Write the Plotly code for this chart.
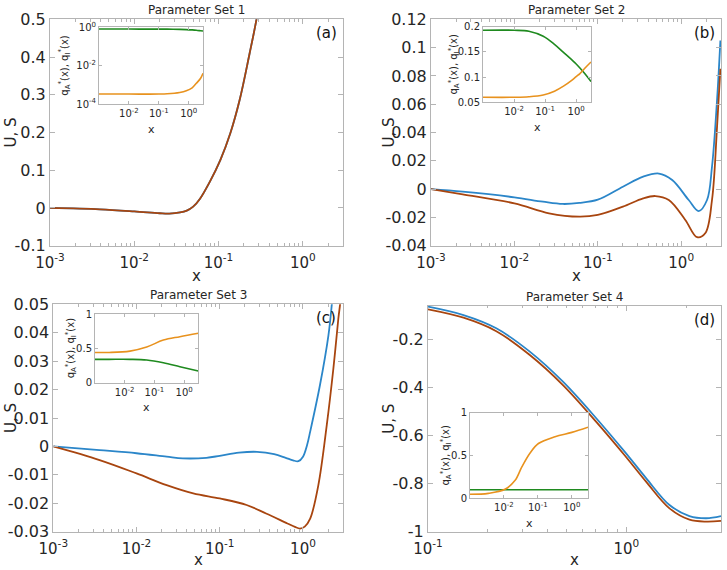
import numpy as np
import plotly.graph_objects as go

W, H = 727, 570

# ---------------- DATA ----------------
# Panel (a) - Parameter Set 1 (U and S coincide)
a_x = [0.001, 0.0039, 0.01, 0.02, 0.026, 0.035, 0.042, 0.05, 0.06, 0.079, 0.105, 0.138, 0.178, 0.234, 0.282, 0.316, 0.355]
a_U = [0.0, -0.0035, -0.009, -0.014, -0.015, -0.012, -0.007, 0.0035, 0.024, 0.070, 0.127, 0.198, 0.286, 0.41, 0.5, 0.57, 0.65]
a_S = [0.0, -0.0035, -0.009, -0.014, -0.015, -0.012, -0.007, 0.0035, 0.024, 0.070, 0.127, 0.198, 0.286, 0.41, 0.5, 0.57, 0.65]
a_in_x = [0.001, 0.01, 0.1, 0.19, 0.5, 0.83, 1.3, 1.8, 2.5, 3.0]
a_qA = [0.81, 0.81, 0.80, 0.80, 0.78, 0.76, 0.73, 0.70, 0.66, 0.64]
a_qI = [3.3e-4, 3.3e-4, 3.3e-4, 3.4e-4, 4.0e-4, 4.9e-4, 7.0e-4, 1.2e-3, 2.2e-3, 4.0e-3]

# Panel (b) - Parameter Set 2
b_xU = [0.001, 0.0024, 0.01, 0.022, 0.038, 0.06, 0.1, 0.2, 0.35, 0.54, 0.78, 1.23, 1.62, 2.04, 2.34, 2.69, 2.95]
b_U = [0.0, -0.0018, -0.0058, -0.0089, -0.0105, -0.0098, -0.0075, 0.0017, 0.0088, 0.011, 0.0064, -0.0077, -0.0155, -0.0077, 0.0158, 0.063, 0.105]
b_xS = [0.001, 0.0024, 0.01, 0.026, 0.06, 0.1, 0.2, 0.35, 0.49, 0.71, 1.12, 1.55, 1.95, 2.34, 2.69, 2.95]
b_S = [0.0, -0.0037, -0.0101, -0.0171, -0.0195, -0.0183, -0.0124, -0.0065, -0.0049, -0.0077, -0.0218, -0.034, -0.031, -0.0077, 0.044, 0.085]
b_in_x = [0.001, 0.01, 0.03, 0.087, 0.2, 0.39, 0.7, 1.0, 1.32, 2.0, 3.0]
b_qA = [0.193, 0.193, 0.191, 0.181, 0.165, 0.149, 0.135, 0.126, 0.118, 0.105, 0.091]
b_qI = [0.060, 0.060, 0.061, 0.0645, 0.072, 0.082, 0.093, 0.101, 0.107, 0.119, 0.130]

# Panel (c) - Parameter Set 3
c_xU = [0.001, 0.0036, 0.01, 0.023, 0.036, 0.069, 0.1, 0.17, 0.28, 0.45, 0.62, 0.76, 0.88, 1.0, 1.12, 1.22, 1.6, 2.02, 2.22, 2.45]
c_U = [0.0, -0.0013, -0.0024, -0.0036, -0.0042, -0.0040, -0.0033, -0.0022, -0.0019, -0.0027, -0.0040, -0.0049, -0.0052, -0.0036, 0.0005, 0.0052, 0.0216, 0.039, 0.05, 0.065]
c_xS = [0.001, 0.0036, 0.01, 0.023, 0.048, 0.1, 0.21, 0.36, 0.65, 0.8, 0.92, 1.05, 1.22, 1.53, 1.93, 2.32, 2.66, 2.79, 2.95]
c_S = [0.0, -0.0048, -0.0095, -0.0136, -0.0165, -0.0183, -0.0206, -0.0236, -0.0271, -0.0283, -0.0289, -0.0282, -0.0254, -0.0136, 0.0075, 0.0275, 0.045, 0.05, 0.058]
c_in_x = [0.001, 0.003, 0.015, 0.055, 0.2, 0.72, 3.0]
c_qA = [0.34, 0.34, 0.34, 0.33, 0.29, 0.233, 0.17]
c_qI = [0.44, 0.44, 0.46, 0.52, 0.62, 0.67, 0.72]

# Panel (d) - Parameter Set 4
d_x = [0.1, 0.151, 0.221, 0.326, 0.479, 0.705, 0.98, 1.26, 1.65, 2.08, 2.53, 3.0]
d_U = [-0.064, -0.099, -0.154, -0.251, -0.376, -0.528, -0.667, -0.778, -0.889, -0.935, -0.944, -0.935]
d_S = [-0.075, -0.11, -0.166, -0.265, -0.39, -0.543, -0.682, -0.793, -0.903, -0.950, -0.958, -0.955]
d_in_x = [0.001, 0.0035, 0.0107, 0.0214, 0.034, 0.059, 0.104, 0.32, 1.0, 3.0]
d_qA = [0.1, 0.1, 0.1, 0.1, 0.1, 0.1, 0.1, 0.1, 0.1, 0.1]
d_qI = [0.047, 0.058, 0.105, 0.21, 0.37, 0.53, 0.64, 0.72, 0.77, 0.83]

titles = ["Parameter Set 1", "Parameter Set 2", "Parameter Set 3", "Parameter Set 4"]
panel_tags = ["(a)", "(b)", "(c)", "(d)"]

# ---------------- STYLE ----------------
BLUE = "#2b86c9"
BROWN = "#a8450f"
GREEN = "#1f8a1f"
ORANGE = "#e8921e"
AXC = "#b4b4b4"
TXT = "#262626"
FONT = "DejaVu Sans"

def dom(x0, x1, y0, y1):
    return [x0 / W, x1 / W], [1 - y1 / H, 1 - y0 / H]

def sup(e):
    return "10<sup>%d</sup>" % e

def minor_vals(lo, hi):
    out = []
    for e in range(lo, hi + 1):
        for m in range(2, 10):
            out.append(m * 10.0 ** e)
    return out

fig = go.Figure()

main_boxes = [(50, 343, 19.3, 245.7), (431, 721, 19.3, 245.7),
              (53.3, 342.7, 304.3, 531.7), (428, 721, 305.7, 531.7)]
inset_boxes = [(99, 203, 27.3, 104), (483, 591, 26.7, 102.3),
               (95, 198.3, 314, 382.7), (470, 588, 412.7, 498.3)]

main_yranges = [[-0.1, 0.5], [-0.04, 0.12], [-0.03, 0.05], [-1, -0.06]]
main_yticks = [[-0.1, 0, 0.1, 0.2, 0.3, 0.4, 0.5],
               [-0.04, -0.02, 0, 0.02, 0.04, 0.06, 0.08, 0.1, 0.12],
               [-0.03, -0.02, -0.01, 0, 0.01, 0.02, 0.03, 0.04, 0.05],
               [-1, -0.8, -0.6, -0.4, -0.2]]
main_ytext = [["-0.1", "0", "0.1", "0.2", "0.3", "0.4", "0.5"],
              ["-0.04", "-0.02", "0", "0.02", "0.04", "0.06", "0.08", "0.1", "0.12"],
              ["-0.03", "-0.02", "-0.01", "0", "0.01", "0.02", "0.03", "0.04", "0.05"],
              ["-1", "-0.8", "-0.6", "-0.4", "-0.2"]]
main_xranges = [[-3, np.log10(3)], [-3, np.log10(3)], [-3, np.log10(3)], [-1, np.log10(3)]]
main_xticks = [[1e-3, 1e-2, 1e-1, 1], [1e-3, 1e-2, 1e-1, 1], [1e-3, 1e-2, 1e-1, 1], [1e-1, 1]]
main_xtext = [[sup(-3), sup(-2), sup(-1), sup(0)]] * 3 + [[sup(-1), sup(0)]]

inset_ytype = ["log", "linear", "linear", "linear"]
inset_yranges = [[-4, 0], [0.05, 0.2], [0, 1], [0, 1]]
inset_yticks = [[1e-4, 1e-2, 1], [0.05, 0.1, 0.15, 0.2], [0, 0.5, 1], [0, 0.5, 1]]
inset_ytext = [[sup(-4), sup(-2), sup(0)], ["0.05", "0.1", "0.15", "0.2"], ["0", "0.5", "1"], ["0", "0.5", "1"]]

main_data = [(a_x, a_U, a_x, a_S), (b_xU, b_U, b_xS, b_S), (c_xU, c_U, c_xS, c_S), (d_x, d_U, d_x, d_S)]
inset_data = [(a_in_x, a_qA, a_qI), (b_in_x, b_qA, b_qI), (c_in_x, c_qA, c_qI), (d_in_x, d_qA, d_qI)]

annotations = []
layout_axes = {}

for i in range(4):
    n = i + 1
    m = i + 5
    xd, yd = dom(*main_boxes[i])
    xs = "" if n == 1 else str(n)
    common = dict(showline=True, linecolor=AXC, linewidth=1, mirror="ticks", ticks="inside",
                  tickcolor=AXC, showgrid=False, zeroline=False)
    layout_axes["xaxis" + xs] = dict(common, domain=xd, anchor="y" + xs, type="log",
                                     range=main_xranges[i], tickvals=main_xticks[i],
                                     ticktext=main_xtext[i], ticklen=5, ticklabelstandoff=3,
                                     tickfont=dict(family=FONT, size=15, color=TXT),
                                     minor=dict(ticks="inside", ticklen=2.5, tickcolor=AXC,
                                                tickvals=minor_vals(-3, 0), showgrid=False))
    layout_axes["yaxis" + xs] = dict(common, domain=yd, anchor="x" + xs, range=main_yranges[i],
                                     tickvals=main_yticks[i], ticktext=main_ytext[i], ticklen=5,
                                     tickfont=dict(family=FONT, size=16, color=TXT))
    ux, uy, sx, sy = main_data[i]
    fig.add_trace(go.Scatter(x=ux, y=uy, mode="lines", line=dict(color=BLUE, width=1.8, shape="spline", smoothing=1.0),
                             xaxis="x" + xs, yaxis="y" + xs, showlegend=False))
    fig.add_trace(go.Scatter(x=sx, y=sy, mode="lines", line=dict(color=BROWN, width=1.8, shape="spline", smoothing=1.0),
                             xaxis="x" + xs, yaxis="y" + xs, showlegend=False))

    # inset
    ixd, iyd = dom(*inset_boxes[i])
    ms = str(m)
    icommon = dict(showline=True, linecolor=AXC, linewidth=1, mirror="ticks", ticks="inside",
                   tickcolor=AXC, showgrid=False, zeroline=False, ticklen=3,
                   tickfont=dict(family=FONT, size=10, color=TXT))
    layout_axes["xaxis" + ms] = dict(icommon, domain=ixd, anchor="y" + ms, type="log",
                                     range=[-3, np.log10(3)], tickvals=[1e-2, 1e-1, 1],
                                     ticktext=[sup(-2), sup(-1), sup(0)])
    yax = dict(icommon, domain=iyd, anchor="x" + ms, type=inset_ytype[i], range=inset_yranges[i],
               tickvals=inset_yticks[i], ticktext=inset_ytext[i])
    layout_axes["yaxis" + ms] = yax
    qx, qA, qI = inset_data[i]
    fig.add_trace(go.Scatter(x=qx, y=qA, mode="lines", line=dict(color=GREEN, width=1.6, shape="spline", smoothing=1.0),
                             xaxis="x" + ms, yaxis="y" + ms, showlegend=False))
    fig.add_trace(go.Scatter(x=qx, y=qI, mode="lines", line=dict(color=ORANGE, width=1.6, shape="spline", smoothing=1.0),
                             xaxis="x" + ms, yaxis="y" + ms, showlegend=False))

    # annotations: titles, axis titles, panel tags
    x0, x1, y0, y1 = main_boxes[i]
    cx = (x0 + x1) / 2
    annotations.append(dict(text=titles[i], x=cx / W, y=1 - (y0 - 9) / H, xref="paper", yref="paper",
                            showarrow=False, xanchor="center", yanchor="middle",
                            font=dict(family=FONT, size=12, color=TXT)))
    annotations.append(dict(text="U, S", x=11 / W if i % 2 == 0 else 389 / W, y=1 - ((y0 + y1) / 2) / H,
                            xref="paper", yref="paper", showarrow=False, textangle=-90,
                            xanchor="center", yanchor="middle", font=dict(family=FONT, size=15, color=TXT)))
    xt_off = 30 if i < 2 else 28
    annotations.append(dict(text="x", x=cx / W, y=1 - (y1 + xt_off) / H, xref="paper", yref="paper",
                            showarrow=False, xanchor="center", yanchor="middle",
                            font=dict(family=FONT, size=15, color=TXT)))
    annotations.append(dict(text=panel_tags[i], x=(x1 - 17) / W, y=1 - (y0 + 14) / H, xref="paper", yref="paper",
                            showarrow=False, xanchor="center", yanchor="middle",
                            font=dict(family=FONT, size=15, color="#111111")))
    ix0, ix1, iy0, iy1 = inset_boxes[i]
    ylab_off = [35, 30, 24, 25][i]
    annotations.append(dict(text="q<sub>A</sub><sup>*</sup>(x), q<sub>I</sub><sup>*</sup>(x)",
                            x=(ix0 - ylab_off) / W, y=1 - ((iy0 + iy1) / 2) / H,
                            xref="paper", yref="paper", showarrow=False, textangle=-90,
                            xanchor="center", yanchor="middle", font=dict(family=FONT, size=10, color=TXT)))
    annotations.append(dict(text="x", x=((ix0 + ix1) / 2) / W, y=1 - (iy1 + 25) / H, xref="paper", yref="paper",
                            showarrow=False, xanchor="center", yanchor="middle",
                            font=dict(family=FONT, size=11, color=TXT)))

fig.update_layout(width=W, height=H, margin=dict(l=0, r=0, t=0, b=0, autoexpand=False),
                  paper_bgcolor="white", plot_bgcolor="white",
                  annotations=annotations, **layout_axes)

fig.write_html("out.html", config={"displayModeBar": False},
               post_script="document.body.style.margin='0';document.body.style.padding='0';document.body.style.overflow='hidden';")
